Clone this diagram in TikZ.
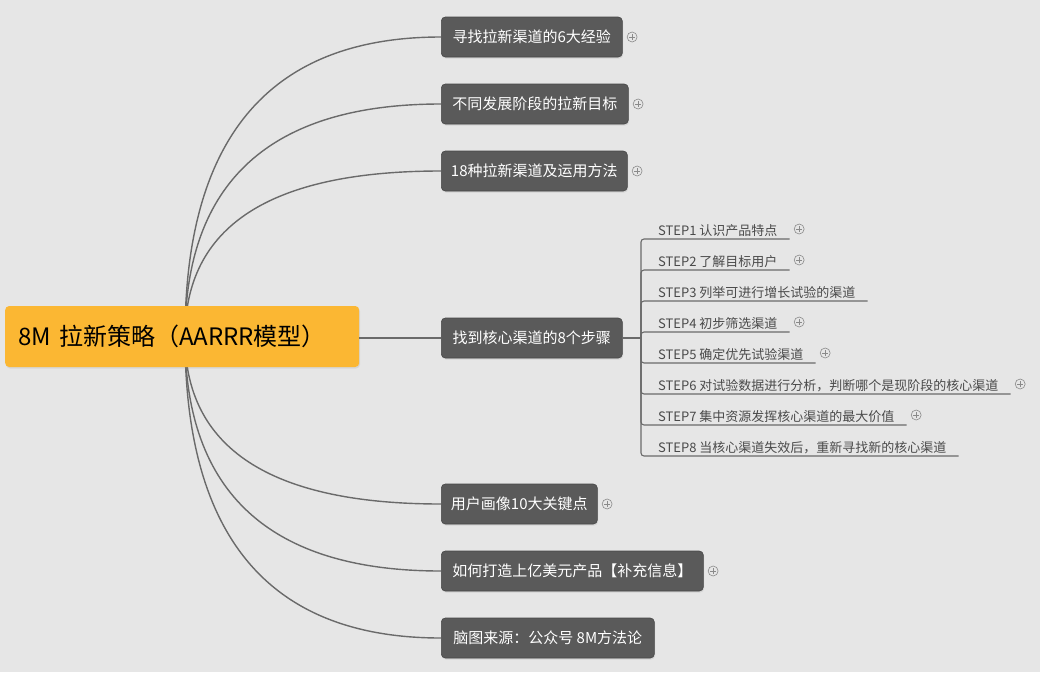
\documentclass[tikz,border=0pt]{standalone}
\usepackage{fontspec}
\setmainfont{Noto Sans CJK SC}
\usetikzlibrary{shadows,calc}
\definecolor{bg}{HTML}{E6E6E6}
\definecolor{boxfill}{HTML}{5A5A5A}
\definecolor{boxline}{HTML}{474747}
\definecolor{rootfill}{HTML}{FBB733}
\definecolor{linec}{HTML}{6A6A6A}
\definecolor{steptext}{HTML}{4A4A4A}
\definecolor{plusc}{HTML}{8A8A8A}
\begin{document}
\begin{tikzpicture}[x=1pt,y=1pt,
  conn/.style={draw=linec, line width=1.4pt},
  branch/.style={anchor=west, rectangle, rounded corners=4pt, fill=boxfill, draw=boxline,
    line width=0.6pt, text=white, font=\fontsize{15}{18}\selectfont,
    minimum height=40pt, inner xsep=0pt,
    drop shadow={opacity=0.18, shadow xshift=0.8pt, shadow yshift=-1.5pt}},
  rootbox/.style={anchor=west, rectangle, rounded corners=4pt, fill=rootfill, draw=none,
    text=black, font=\fontsize{24}{28}\selectfont, minimum height=61pt,
    inner xsep=13pt, text width=328pt, align=left,
    drop shadow={opacity=0.15, shadow xshift=0.8pt, shadow yshift=-1.5pt}},
  stepnode/.style={anchor=base west, inner sep=0pt, text=steptext, font=\fontsize{13}{15}\selectfont},
  plusnode/.style={circle, draw=plusc, line width=0.6pt, minimum size=10pt, inner sep=0pt,
    path picture={\draw[plusc, line width=0.6pt]
      ([xshift=-3pt]path picture bounding box.center) -- ([xshift=3pt]path picture bounding box.center)
      ([yshift=-3pt]path picture bounding box.center) -- ([yshift=3pt]path picture bounding box.center);}}
]
\fill[bg] (0,0) rectangle (1040,-672);
\useasboundingbox (0,0) rectangle (1040,-672);

% hub (hidden behind the root) and junction of the step bracket
\coordinate (hub) at (185,-337);
\coordinate (j) at (641,-338);

% branches
\node[branch, minimum width=181pt] (b1) at (441,-37) {寻找拉新渠道的6大经验};
\node[branch, minimum width=187pt] (b2) at (441,-104) {不同发展阶段的拉新目标};
\node[branch, minimum width=186pt] (b3) at (441,-171) {18种拉新渠道及运用方法};
\node[branch, minimum width=181pt] (b4) at (441,-338) {找到核心渠道的8个步骤};
\node[branch, minimum width=156pt] (b5) at (441,-504) {用户画像10大关键点};
\node[branch, minimum width=262pt] (b6) at (441,-571) {如何打造上亿美元产品【补充信息】};
\node[branch, minimum width=213pt] (b7) at (441,-638) {脑图来源：公众号 8M方法论};

% curves from hub to branches
\draw[conn] (hub) to[out=90,in=180,out distance=200pt,in distance=171pt] (b1.west);
\draw[conn] (hub) to[out=90,in=180,out distance=155pt,in distance=171pt] (b2.west);
\draw[conn] (hub) to[out=90,in=180,out distance=111pt,in distance=171pt] (b3.west);
\draw[conn] (hub) to[out=270,in=180,out distance=111pt,in distance=171pt] (b5.west);
\draw[conn] (hub) to[out=270,in=180,out distance=156pt,in distance=171pt] (b6.west);
\draw[conn] (hub) to[out=270,in=180,out distance=201pt,in distance=171pt] (b7.west);

% root, on top of the curves
\node[rootbox] (root) at (5,-336.5) {8M 拉新策略（AARRR模型）};
\draw[conn] (root.east |- b4.west) -- (b4.west);

% steps
\node[stepnode] (s1) at (658,-235) {STEP1 认识产品特点};
\node[stepnode] (s2) at (658,-266) {STEP2 了解目标用户};
\node[stepnode] (s3) at (658,-297) {STEP3 列举可进行增长试验的渠道};
\node[stepnode] (s4) at (658,-328) {STEP4 初步筛选渠道};
\node[stepnode] (s5) at (658,-359) {STEP5 确定优先试验渠道};
\node[stepnode] (s6) at (658,-390) {STEP6 对试验数据进行分析，判断哪个是现阶段的核心渠道};
\node[stepnode] (s7) at (658,-421) {STEP7 集中资源发挥核心渠道的最大价值};
\node[stepnode] (s8) at (658,-452) {STEP8 当核心渠道失效后，重新寻找新的核心渠道};

\draw[conn] (b4.east) -- (j);
\foreach \s in {s1,s2,s3,s4,s5,s6,s7,s8}{
  \draw[conn, line width=1.1pt, rounded corners=3pt] (j) |- ([xshift=12pt,yshift=-4pt]\s.base east);
}

% plus markers
\node[plusnode] (p1) at ([xshift=9.5pt]b1.east) {};
\node[plusnode] (p2) at ([xshift=9.5pt]b2.east) {};
\node[plusnode] (p3) at ([xshift=9.5pt]b3.east) {};
\node[plusnode] (p5) at ([xshift=9.5pt]b5.east) {};
\node[plusnode] (p6) at ([xshift=9.5pt]b6.east) {};
\foreach \s in {s1,s2,s4,s5,s6,s7}{
  \node[plusnode] (p\s) at ([xshift=21.5pt,yshift=6pt]\s.base east) {};
}
\end{tikzpicture}
\end{document}
